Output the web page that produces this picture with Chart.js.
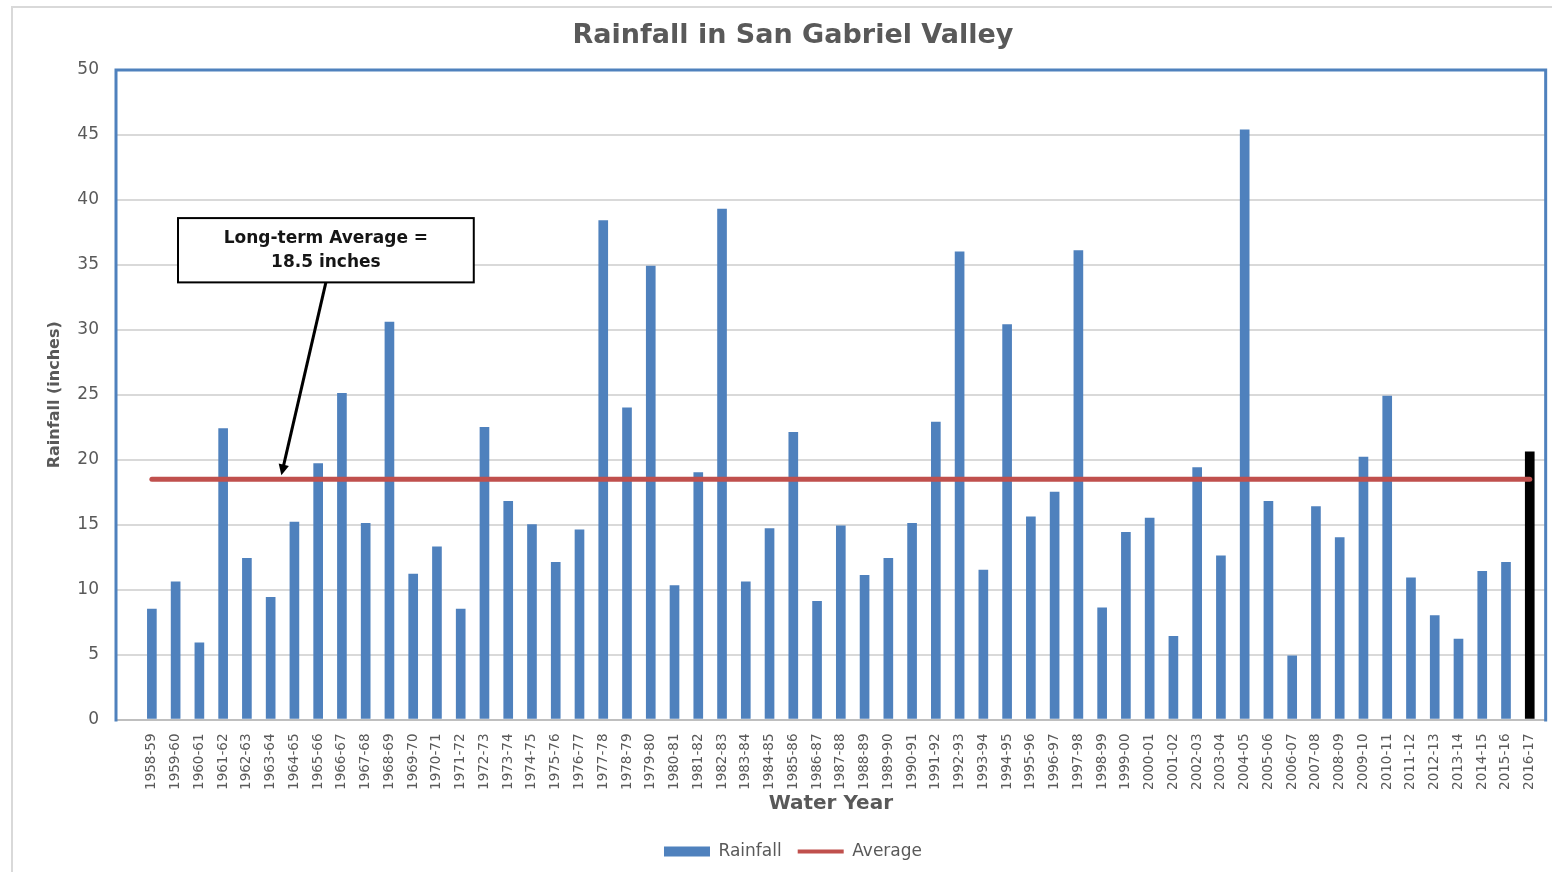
<!DOCTYPE html>
<html>
<head>
<meta charset="utf-8">
<title>Rainfall in San Gabriel Valley</title>
<script src="https://cdn.jsdelivr.net/npm/chart.js@4.4.0/dist/chart.umd.min.js"></script>
<style>
    html, body { margin: 0; padding: 0; background: #fff; overflow: hidden; }
    #frame {
        position: absolute; left: 11px; top: 6px; width: 1600px; height: 900px;
        border: 2px solid #d9d9d9; box-sizing: border-box;
    }
    #wrap { position: absolute; left: 0; top: 0; width: 1552px; height: 872px; }
</style>
</head>
<body>
<div id="frame"></div>
<div id="wrap"><canvas id="rainChart"></canvas></div>
<script>
// Water years on the x axis
const waterYears = [
    '1958-59', '1959-60', '1960-61', '1961-62', '1962-63', '1963-64', '1964-65', '1965-66',
    '1966-67', '1967-68', '1968-69', '1969-70', '1970-71', '1971-72', '1972-73', '1973-74',
    '1974-75', '1975-76', '1976-77', '1977-78', '1978-79', '1979-80', '1980-81', '1981-82',
    '1982-83', '1983-84', '1984-85', '1985-86', '1986-87', '1987-88', '1988-89', '1989-90',
    '1990-91', '1991-92', '1992-93', '1993-94', '1994-95', '1995-96', '1996-97', '1997-98',
    '1998-99', '1999-00', '2000-01', '2001-02', '2002-03', '2003-04', '2004-05', '2005-06',
    '2006-07', '2007-08', '2008-09', '2009-10', '2010-11', '2011-12', '2012-13', '2013-14',
    '2014-15', '2015-16', '2016-17'
];

// Rainfall in inches
const rainfall = [
    8.5, 10.6, 5.9, 22.4, 12.4, 9.4, 15.2, 19.7,
    25.1, 15.1, 30.6, 11.2, 13.3, 8.5, 22.5, 16.8,
    15.0, 12.1, 14.6, 38.4, 24.0, 34.9, 10.3, 19.0,
    39.3, 10.6, 14.7, 22.1, 9.1, 14.9, 11.1, 12.4,
    15.1, 22.9, 36.0, 11.5, 30.4, 15.6, 17.5, 36.1,
    8.6, 14.4, 15.5, 6.4, 19.4, 12.6, 45.4, 16.8,
    4.9, 16.4, 14.0, 20.2, 24.9, 10.9, 8.0, 6.2,
    11.4, 12.1, 20.6
];

const longTermAverage = 18.5;
const averageLine = waterYears.map(() => longTermAverage);

const yTicks = [0, 5, 10, 15, 20, 25, 30, 35, 40, 45, 50];

const currentYear = '2016-17';

const BLUE = '#4f81bd';
const RED = '#c0504d';
const TEXT = '#595959';

Chart.defaults.font.family = 'DejaVu Sans';
Chart.defaults.color = TEXT;

// blue frame around the plot (left, top, right)
const plotFrame = {
    id: 'plotFrame',
    afterDatasetsDraw: function(chart) {
        const a = chart.chartArea;
        const ctx = chart.ctx;
        ctx.save();
        ctx.strokeStyle = BLUE;
        ctx.lineWidth = 3;
        ctx.beginPath();
        ctx.moveTo(a.left, a.bottom + 2);
        ctx.lineTo(a.left, a.top);
        ctx.lineTo(a.right, a.top);
        ctx.lineTo(a.right, a.bottom + 2);
        ctx.stroke();
        ctx.restore();
    }
};

// callout box with arrow pointing at the average line
const averageCallout = {
    id: 'averageCallout',
    afterDraw: function(chart) {
        const x = chart.scales.x;
        const y = chart.scales.y;
        const ctx = chart.ctx;
        const left = x.getPixelForValue(1.1);
        const right = x.getPixelForValue(13.55);
        const top = y.getPixelForValue(38.6);
        const bottom = y.getPixelForValue(33.65);
        const cx = (left + right) / 2;

        ctx.save();
        ctx.fillStyle = '#fff';
        ctx.fillRect(left, top, right - left, bottom - top);
        ctx.strokeStyle = '#000';
        ctx.lineWidth = 2;
        ctx.strokeRect(left, top, right - left, bottom - top);

        ctx.fillStyle = '#151515';
        ctx.font = 'bold 17px "DejaVu Sans"';
        ctx.textAlign = 'center';
        ctx.textBaseline = 'middle';
        ctx.fillText('Long-term Average =', cx, top + 20);
        ctx.fillText('18.5 inches', cx, top + 44);

        // arrow
        const tipX = x.getPixelForValue(5.45);
        const tipY = y.getPixelForValue(longTermAverage + 0.3);
        const ang = Math.atan2(tipY - bottom, tipX - cx);
        const headLen = 12;
        ctx.strokeStyle = '#000';
        ctx.lineWidth = 3;
        ctx.beginPath();
        ctx.moveTo(cx, bottom);
        ctx.lineTo(tipX - Math.cos(ang) * headLen * 0.8, tipY - Math.sin(ang) * headLen * 0.8);
        ctx.stroke();
        ctx.fillStyle = '#000';
        ctx.beginPath();
        ctx.moveTo(tipX, tipY);
        ctx.lineTo(tipX - headLen * Math.cos(ang - 0.45), tipY - headLen * Math.sin(ang - 0.45));
        ctx.lineTo(tipX - headLen * Math.cos(ang + 0.45), tipY - headLen * Math.sin(ang + 0.45));
        ctx.closePath();
        ctx.fill();
        ctx.restore();
    }
};

const ctx = document.getElementById('rainChart');

new Chart(ctx, {
    type: 'bar',
    data: {
        datasets: [{
            type: 'bar',
            label: 'Rainfall',
            data: rainfall.map((v, i) => ({ x: i, y: v })),
            backgroundColor: waterYears.map(yr => yr === currentYear ? '#000000' : BLUE),
            borderWidth: 0,
            barThickness: 9,
            pointStyle: 'rect',
            order: 2
        }, {
            type: 'line',
            label: 'Average',
            data: averageLine.map((v, i) => ({ x: i, y: v })),
            borderColor: RED,
            backgroundColor: RED,
            borderWidth: 5,
            pointRadius: 0,
            pointStyle: 'line',
            borderCapStyle: 'round',
            fill: false,
            order: 1
        }]
    },
    options: {
        responsive: true,
        maintainAspectRatio: false,
        animation: false,
        layout: {
            padding: { left: 38, right: 4, top: 0, bottom: 2 }
        },
        scales: {
            x: {
                type: 'linear',
                offset: false,
                min: -1.51,
                max: 58.67,
                grid: { display: false },
                border: { display: true, color: '#bfbfbf', width: 2 },
                ticks: {
                    stepSize: 1,
                    autoSkip: false,
                    includeBounds: false,
                    maxRotation: 90,
                    minRotation: 90,
                    padding: 6,
                    font: { size: 13.5 },
                    color: TEXT,
                    callback: function(value) {
                        return Number.isInteger(value) && waterYears[value] ? waterYears[value] : '';
                    }
                },
                title: {
                    display: true,
                    text: 'Water Year',
                    color: TEXT,
                    font: { size: 20, weight: 'bold' },
                    padding: { top: 0, bottom: 11.5 }
                },
                afterFit: function(scale) { scale.height = 107.5; }
            },
            y: {
                min: yTicks[0],
                max: yTicks[yTicks.length - 1],
                afterBuildTicks: function(scale) {
                    scale.ticks = yTicks.map(v => ({ value: v }));
                },
                grid: { color: '#d9d9d9', lineWidth: 2, drawTicks: false },
                border: { display: false },
                ticks: {
                    padding: 17,
                    font: { size: 17 },
                    color: TEXT
                },
                title: {
                    display: true,
                    text: 'Rainfall (inches)',
                    color: TEXT,
                    font: { size: 16, weight: 'bold' },
                    padding: { top: 7.4, bottom: 0 }
                },
                afterFit: function(scale) { scale.width = 78; }
            }
        },
        plugins: {
            title: {
                display: true,
                text: 'Rainfall in San Gabriel Valley',
                color: TEXT,
                font: { size: 27, weight: 'bold' },
                padding: { top: 20, bottom: 17.6 }
            },
            legend: {
                position: 'bottom',
                labels: {
                    usePointStyle: true,
                    pointStyleWidth: 46,
                    boxHeight: 10,
                    padding: 16,
                    color: TEXT,
                    font: { size: 17 },
                    sort: function(a, b) { return a.datasetIndex - b.datasetIndex; },
                    generateLabels: function(chart) {
                        const items = Chart.defaults.plugins.legend.labels.generateLabels(chart);
                        items.forEach(function(item) {
                            if (item.datasetIndex === 0) {
                                item.pointStyle = 'rect';
                                item.fillStyle = BLUE;
                                item.strokeStyle = BLUE;
                                item.lineWidth = 0;
                            } else {
                                item.pointStyle = 'line';
                                item.strokeStyle = RED;
                                item.lineWidth = 4;
                            }
                        });
                        return items;
                    }
                }
            },
            tooltip: { enabled: false }
        }
    },
    plugins: [plotFrame, averageCallout]
});
</script>
</body>
</html>
